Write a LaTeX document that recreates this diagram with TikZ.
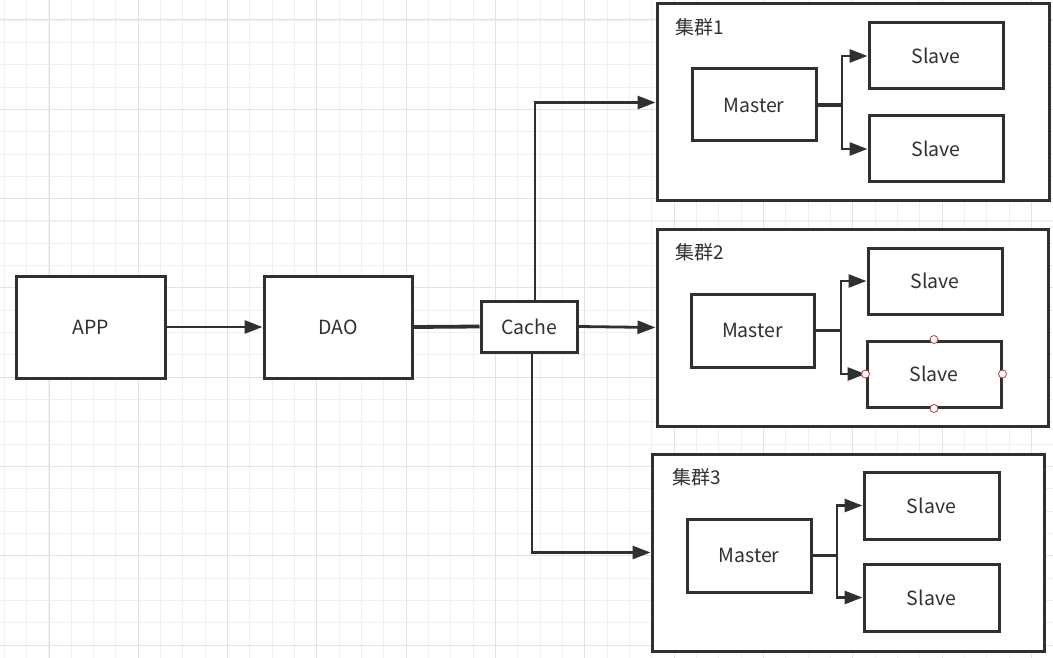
\documentclass[tikz,border=0pt]{standalone}
\usepackage{fontspec}
\setmainfont{Noto Sans CJK SC}
\usetikzlibrary{arrows.meta}
\definecolor{ink}{HTML}{303030}
\definecolor{gridminor}{HTML}{F0F0F0}
\definecolor{gridmajor}{HTML}{E3E3E3}
\definecolor{handle}{HTML}{B03A3A}
\tikzset{
  box/.style={draw=ink, line width=3pt, fill=white, text=ink, font=\fontsize{19.5}{22}\selectfont, inner sep=0pt},
  cluster/.style={draw=ink, line width=3pt, fill=white, inner sep=0pt},
  clabel/.style={anchor=west, text=ink, font=\fontsize{19}{22}\selectfont, inner sep=0pt},
  conn/.style={draw=ink, line width=2.8pt, -{Triangle[length=18pt,width=13pt]}},
  thickconn/.style={draw=ink, line width=3.8pt},
  hdl/.style={circle, draw=handle, line width=0.8pt, fill=white, minimum size=8pt, inner sep=0pt},
}
\begin{document}
\begin{tikzpicture}[x=1pt,y=-1pt]
\useasboundingbox (0,0) rectangle (1053,658);
\fill[white] (0,0) rectangle (1053,658);
% grid
\foreach \i in {0,...,47} {
  \draw[gridminor, line width=1pt] ({4.3+22.33*\i},0) -- ({4.3+22.33*\i},658);
}
\foreach \i in {0,...,30} {
  \draw[gridminor, line width=1pt] (0,{-2.3+22.33*\i}) -- (1053,{-2.3+22.33*\i});
}
\foreach \i in {0,...,11} {
  \draw[gridmajor, line width=1pt] ({49+89.33*\i},0) -- ({49+89.33*\i},658);
}
\foreach \i in {0,...,7} {
  \draw[gridmajor, line width=1pt] (0,{20+89.33*\i}) -- (1053,{20+89.33*\i});
}

% main chain
\node[box, minimum width=149pt, minimum height=102pt] (app) at (90.5,327) {APP};
\node[box, minimum width=148pt, minimum height=102pt] (dao) at (338,327) {DAO};
\node[box, minimum width=96pt, minimum height=51pt] (cache) at (529,326.5) {Cache};

% clusters
\node[cluster, minimum width=392pt, minimum height=197pt] (c1) at (853,102.5) {};
\node[cluster, minimum width=391pt, minimum height=197pt] (c2) at (852.5,327.5) {};
\node[cluster, minimum width=392pt, minimum height=197pt] (c3) at (848,552.5) {};
\node[clabel] (l1) at ([xshift=20pt,yshift=-25pt]c1.north west) {集群1};
\node[clabel] (l2) at ([xshift=20pt,yshift=-25pt]c2.north west) {集群2};
\node[clabel] (l3) at ([xshift=22pt,yshift=-25pt]c3.north west) {集群3};

% cluster 1
\node[box, minimum width=124pt, minimum height=72pt] (m1) at (754,105) {Master};
\node[box, minimum width=134pt, minimum height=66pt] (s1a) at (936,56) {Slave};
\node[box, minimum width=134pt, minimum height=66pt] (s1b) at (936,149) {Slave};
% cluster 2
\node[box, minimum width=123pt, minimum height=73pt] (m2) at (752.5,330.5) {Master};
\node[box, minimum width=134pt, minimum height=66pt] (s2a) at (935,281) {Slave};
\node[box, minimum width=134pt, minimum height=66pt] (s2b) at (934,374) {Slave};
% cluster 3
\node[box, minimum width=124pt, minimum height=73pt] (m3) at (749,555.5) {Master};
\node[box, minimum width=135pt, minimum height=67pt] (s3a) at (931.5,505.5) {Slave};
\node[box, minimum width=135pt, minimum height=67pt] (s3b) at (931.5,597.5) {Slave};

% connectors
\draw[conn] (app.east) -- (dao.west);
\draw[thickconn] (dao.east) -- (cache.west);
\draw[conn] (cache.east) -- (c2.west);
\draw[conn] ([xshift=6pt]cache.north) |- (c1.west);
\draw[conn] ([xshift=3pt]cache.south) |- (c3.west);

\coordinate (sp1) at (842,105);
\coordinate (sp2) at (841,330.5);
\coordinate (sp3) at (837,555.5);
\draw[thickconn] (m1.east) -- (sp1);
\draw[conn] (sp1) |- (s1a.west);
\draw[conn] (sp1) |- (s1b.west);
\draw[thickconn] (m2.east) -- (sp2);
\draw[conn] (sp2) |- (s2a.west);
\draw[conn] (sp2) |- (s2b.west);
\draw[thickconn] (m3.east) -- (sp3);
\draw[conn] (sp3) |- (s3a.west);
\draw[conn] (sp3) |- (s3b.west);

% selection handles
\node[hdl] (h1) at (s2b.north) {};
\node[hdl] (h2) at (s2b.south) {};
\node[hdl] (h3) at (s2b.west) {};
\node[hdl] (h4) at (s2b.east) {};
\end{tikzpicture}
\end{document}
